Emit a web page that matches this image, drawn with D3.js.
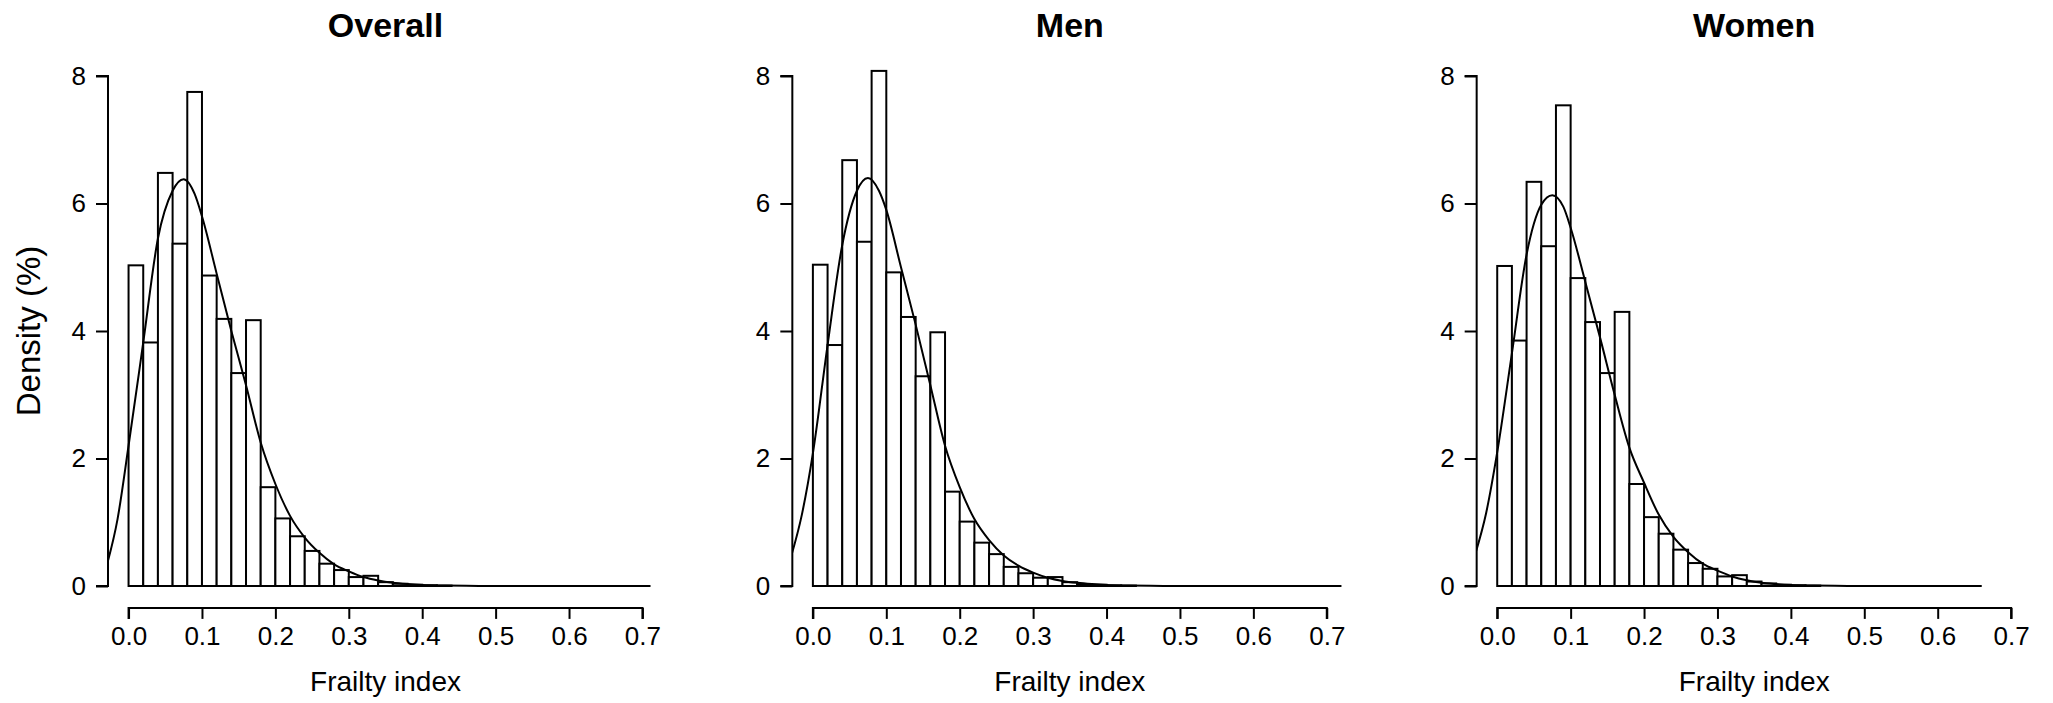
<!DOCTYPE html>
<html>
<head>
<meta charset="utf-8">
<script src="https://cdn.jsdelivr.net/npm/d3@7"></script>
<style>
  html, body { margin: 0; padding: 0; background: #ffffff; }
  svg { display: block; font-family: "Liberation Sans", Arial, sans-serif; }
</style>
</head>
<body>
<svg id="chart" width="2053" height="703"></svg>
<script>
// Histogram bin edges (frailty index), width 0.02
const binEdges = [0.00, 0.02, 0.04, 0.06, 0.08, 0.10, 0.12, 0.14, 0.16, 0.18, 0.20,
                  0.22, 0.24, 0.26, 0.28, 0.30, 0.32, 0.34, 0.36, 0.38, 0.40, 0.42, 0.44];

// Bar heights, density (%)
const overallDensity = [5.03, 3.82, 6.48, 5.37, 7.75, 4.87, 4.19, 3.34, 4.17, 1.55, 1.06,
                        0.78, 0.55, 0.35, 0.25, 0.14, 0.16, 0.06, 0.035, 0.02, 0.012, 0.006];
const menDensity     = [5.04, 3.78, 6.68, 5.40, 8.08, 4.92, 4.22, 3.29, 3.98, 1.48, 1.01,
                        0.68, 0.50, 0.30, 0.20, 0.13, 0.14, 0.06, 0.03, 0.02, 0.01, 0.006];
const womenDensity   = [5.02, 3.85, 6.34, 5.33, 7.54, 4.83, 4.14, 3.34, 4.30, 1.60, 1.08,
                        0.82, 0.57, 0.36, 0.27, 0.15, 0.17, 0.07, 0.04, 0.02, 0.012, 0.006];

// Smoothed density curve, sampled along the frailty index
const curveX       = [-0.03, -0.015, 0.00, 0.02, 0.04, 0.06, 0.075, 0.09, 0.10, 0.12, 0.14, 0.16,
                      0.18, 0.20, 0.22, 0.24, 0.26, 0.28, 0.30, 0.32, 0.34, 0.36, 0.38, 0.40,
                      0.43, 0.46, 0.50, 0.55, 0.60];
const overallCurve = [0.31, 1.05, 2.20, 3.82, 5.45, 6.20, 6.38, 6.15, 5.80, 4.90, 4.00, 3.15,
                      2.25, 1.60, 1.10, 0.76, 0.52, 0.34, 0.23, 0.14, 0.085, 0.05, 0.03, 0.017,
                      0.008, 0.003, 0.001, 0, 0];
const menCurve     = [0.45, 1.12, 2.08, 3.78, 5.35, 6.20, 6.40, 6.20, 5.90, 5.00, 4.10, 3.15,
                      2.20, 1.55, 1.05, 0.72, 0.48, 0.32, 0.21, 0.13, 0.08, 0.05, 0.03, 0.016,
                      0.007, 0.003, 0.001, 0, 0];
const womenCurve   = [0.50, 1.15, 2.10, 3.65, 5.20, 5.98, 6.13, 5.95, 5.62, 4.77, 3.90, 3.00,
                      2.17, 1.62, 1.12, 0.77, 0.53, 0.35, 0.24, 0.15, 0.09, 0.05, 0.03, 0.017,
                      0.008, 0.003, 0.001, 0, 0];
// Upper end of each curve's support
const curveEnds = [0.711, 0.72, 0.66];

const panelTitles = ["Overall", "Men", "Women"];
const xTicks = [0.0, 0.1, 0.2, 0.3, 0.4, 0.5, 0.6, 0.7];
const yTicks = [0, 2, 4, 6, 8];
const xLabel = "Frailty index";
const yLabel = "Density (%)";

const panels = [
  { title: panelTitles[0], bars: overallDensity, curve: overallCurve, end: curveEnds[0] },
  { title: panelTitles[1], bars: menDensity,     curve: menCurve,     end: curveEnds[1] },
  { title: panelTitles[2], bars: womenDensity,   curve: womenCurve,   end: curveEnds[2] }
];

const svg = d3.select("#chart");
const W = 2053, H = 703;
const panelW = W / 3;
// plot region inside each panel
const plotLeft = 108, plotRight = 663, plotTop = 55.6, plotBottom = 606.4;

const x = d3.scaleLinear().domain([-0.028, 0.728]).range([plotLeft, plotRight]);
const y = d3.scaleLinear().domain([-0.32, 8.32]).range([plotBottom, plotTop]);

const fmtX = d3.format(".1f");

panels.forEach((p, i) => {
  const g = svg.append("g").attr("transform", `translate(${i * panelW},0)`);

  const clipId = "clip" + i;
  g.append("clipPath").attr("id", clipId)
    .append("rect")
    .attr("x", plotLeft).attr("y", plotTop)
    .attr("width", plotRight - plotLeft).attr("height", plotBottom - plotTop);

  // bars
  g.append("g").selectAll("rect")
    .data(p.bars)
    .join("rect")
    .attr("x", (d, k) => x(binEdges[k]))
    .attr("width", (d, k) => x(binEdges[k + 1]) - x(binEdges[k]))
    .attr("y", d => y(d))
    .attr("height", d => y(0) - y(d))
    .attr("fill", "#ffffff")
    .attr("stroke", "#000000")
    .attr("stroke-width", 2);

  // density curve
  const pts = curveX.map((cx, k) => [cx, p.curve[k]]);
  pts.push([p.end, 0]);
  const line = d3.line()
    .x(d => x(d[0]))
    .y(d => y(Math.max(0, d[1])))
    .curve(d3.curveMonotoneX);
  g.append("path")
    .attr("clip-path", `url(#${clipId})`)
    .attr("d", line(pts))
    .attr("fill", "none")
    .attr("stroke", "#000000")
    .attr("stroke-width", 2);

  // y axis
  const yAxis = d3.axisLeft(y).tickValues(yTicks).tickSize(12).tickPadding(10).tickFormat(d3.format("d"));
  const ya = g.append("g").attr("transform", `translate(${plotLeft},0)`).call(yAxis);
  ya.select(".domain").attr("d", `M-12,${y(8)}H0V${y(0)}H-12`).attr("stroke-width", 2);
  ya.selectAll(".tick line").attr("stroke-width", 2);
  ya.selectAll(".tick text").attr("font-size", 26).attr("fill", "#000")
    .attr("font-family", "Liberation Sans, Arial, sans-serif");

  // x axis
  const xAxis = d3.axisBottom(x).tickValues(xTicks).tickSize(11).tickPadding(8).tickFormat(fmtX);
  const xa = g.append("g").attr("transform", `translate(0,${plotBottom + 1.5})`).call(xAxis);
  xa.select(".domain").attr("d", `M${x(0)},11V0H${x(0.7)}V11`).attr("stroke-width", 2);
  xa.selectAll(".tick line").attr("stroke-width", 2);
  xa.selectAll(".tick text").attr("font-size", 26).attr("fill", "#000")
    .attr("font-family", "Liberation Sans, Arial, sans-serif");

  // titles
  const cx = (plotLeft + plotRight) / 2;
  g.append("text")
    .attr("x", cx).attr("y", 37)
    .attr("text-anchor", "middle")
    .attr("font-size", 34).attr("font-weight", "bold")
    .text(p.title);

  g.append("text")
    .attr("x", cx).attr("y", 691)
    .attr("text-anchor", "middle")
    .attr("font-size", 28)
    .text(xLabel);

  if (i === 0) {
    g.append("text")
      .attr("transform", `translate(40,${(plotTop + plotBottom) / 2}) rotate(-90)`)
      .attr("text-anchor", "middle")
      .attr("font-size", 33)
      .text(yLabel);
  }
});
</script>
</body>
</html>
